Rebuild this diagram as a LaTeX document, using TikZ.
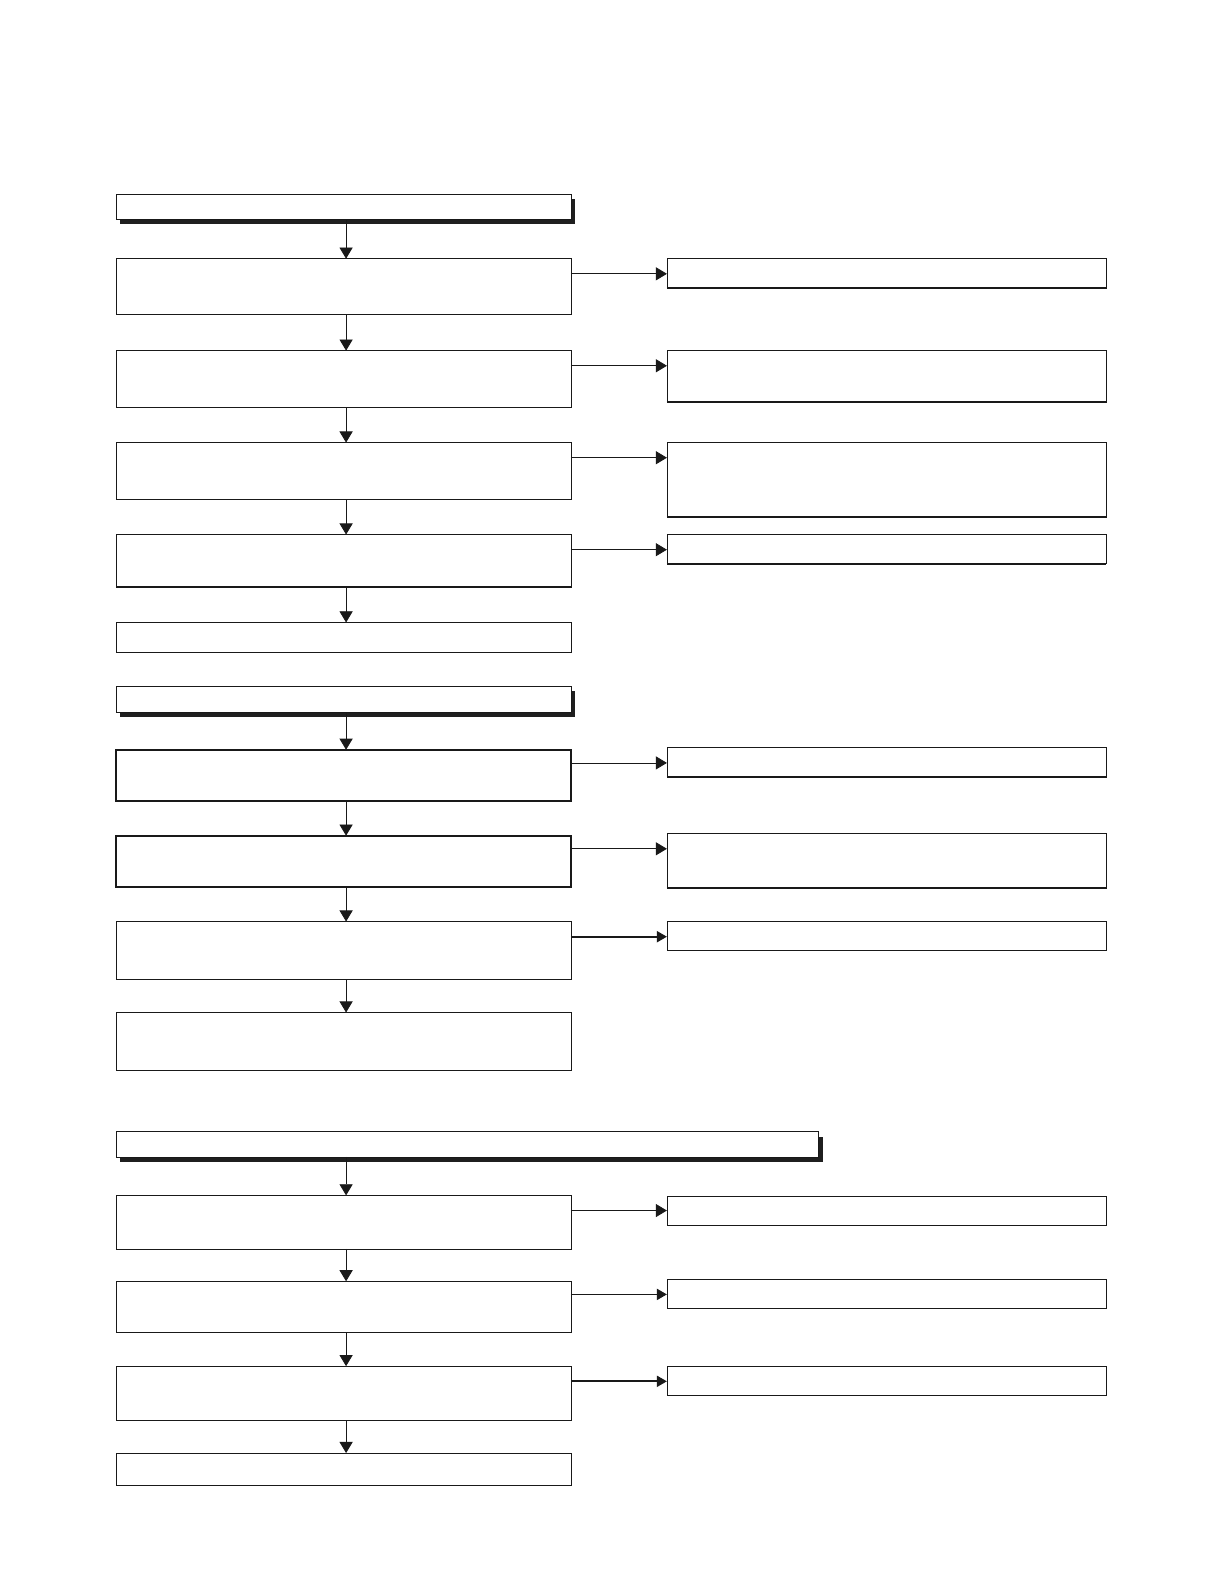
\documentclass[tikz,border=0pt]{standalone}
\usetikzlibrary{arrows.meta,shadows,calc}
\begin{document}
\begin{tikzpicture}[x=1pt,y=-1pt,
  box/.style={draw=black!90, line width=0.8pt, fill=white, inner sep=0pt, outer sep=0pt, anchor=north west},
  heavy/.style={line width=1.7pt},
  hdr/.style={box, drop shadow={shadow xshift=4pt, shadow yshift=-5pt, fill=black!88, opacity=1}},
  arr/.style={draw=black!90, line width=0.8pt, -{Triangle[length=11pt,width=13pt]}},
  harr/.style={arr, line width=1.8pt, -{Triangle[length=10pt,width=11pt]}},
  botline/.style={draw=black!90, line width=1.8pt}
]
\useasboundingbox (0,0) rectangle (1211.3,1567.6);
\newcommand{\bx}[6]{\node[#6, minimum width={#4pt-#2pt}, minimum height={#5pt-#3pt}] (#1) at (#2,#3) {};}
% ---- section 1
\bx{H1}{115}{192}{565}{217}{hdr}
\bx{B1}{115}{256}{565}{311}{box}
\bx{B2}{115}{347}{565}{403}{box}
\bx{B3}{115}{438}{565}{494}{box}
\bx{B4}{115}{529}{565}{581}{box}
\bx{B5}{115}{616}{565}{646}{box}
\bx{R1}{660}{256}{1095}{285}{box}
\bx{R2}{660}{347}{1095}{398}{box}
\bx{R3}{660}{438}{1095}{512}{box}
\bx{R4}{660}{529}{1095}{558}{box}
% ---- section 2
\bx{H2}{115}{679}{565}{705}{hdr}
\bx{B6}{115}{742}{565}{793}{box,heavy}
\bx{B7}{115}{827}{565}{878}{box,heavy}
\bx{B8}{115}{912}{565}{969}{box}
\bx{B9}{115}{1002}{565}{1059}{box}
\bx{R6}{660}{740}{1095}{769}{box}
\bx{R7}{660}{825}{1095}{879}{box}
\bx{R8}{660}{912}{1095}{941}{box}
% ---- section 3
\bx{H3}{115}{1120}{810}{1145}{hdr}
\bx{B10}{115}{1183}{565}{1236}{box}
\bx{B11}{115}{1268}{565}{1319}{box}
\bx{B12}{115}{1352}{565}{1406}{box}
\bx{B13}{115}{1438}{565}{1470}{box}
\bx{R10}{660}{1184}{1095}{1213}{box}
\bx{R11}{660}{1266}{1095}{1295}{box}
\bx{R12}{660}{1352}{1095}{1381}{box}
% thicker bottom edges
\foreach \n in {R1,R2,R3,R4,R6,R7,B4}
  \draw[botline] (\n.south west) -- (\n.south east);
% vertical arrows
\foreach \a/\b in {H1/B1,B1/B2,B2/B3,B3/B4,B4/B5,H2/B6,B6/B7,B7/B8,B8/B9,B10/B11,B11/B12,B12/B13}
  \draw[arr] ([xshift=2.5pt]\a.south) -- ([xshift=2.5pt]\b.north);
\draw[arr] ([xshift=2.5pt]B10.north |- H3.south) -- ([xshift=2.5pt]B10.north);
% horizontal arrows
\foreach \a/\b/\o in {B1/R1/15,B2/R2/15,B3/R3/15,B4/R4/15,B6/R6/13,B7/R7/13,B10/R10/15}
  \draw[arr] ([yshift=-\o pt]\a.north east) -- ([yshift=-\o pt]\a.north east -| \b.west);
\foreach \a/\b/\o in {B8/R8/15,B11/R11/13,B12/R12/15}
  \draw[harr] ([yshift=-\o pt]\a.north east) -- ([yshift=-\o pt]\a.north east -| \b.west);
\end{tikzpicture}
\end{document}
